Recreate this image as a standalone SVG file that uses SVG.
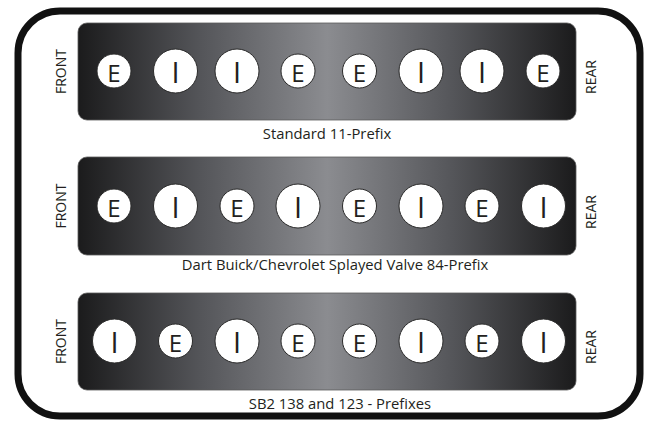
<svg xmlns="http://www.w3.org/2000/svg" width="646" height="421" viewBox="0 0 646 421">
  <defs>
    <linearGradient id="barGrad" x1="0" y1="0" x2="1" y2="0">
      <stop offset="0" stop-color="#1b1b1c"/>
      <stop offset="0.25" stop-color="#55565a"/>
      <stop offset="0.5" stop-color="#8b8c90"/>
      <stop offset="0.75" stop-color="#55565a"/>
      <stop offset="1" stop-color="#1b1b1c"/>
    </linearGradient>
  </defs>
  <style>
    .frame { fill: #ffffff; stroke: #111111; stroke-width: 7; }
    .bar { fill: url(#barGrad); stroke: #5a5a5a; stroke-width: 0.8; }
    .valve { fill: #ffffff; stroke: #2a2a2a; stroke-width: 1; }
    .ve { font-family: "Open Sans", "Liberation Sans", sans-serif; font-size: 24px; fill: #231f20; text-anchor: middle; }
    .vi { font-family: "Open Sans", "Liberation Sans", sans-serif; font-size: 29px; fill: #231f20; text-anchor: middle; }
    .side { font-family: "Open Sans", "Liberation Sans", sans-serif; font-size: 14px; fill: #231f20; text-anchor: middle; }
    .cap { font-family: "Open Sans", "Liberation Sans", sans-serif; font-size: 14.8px; fill: #231f20; text-anchor: middle; }
  </style>
  <rect class="frame" x="18" y="11" width="622" height="405" rx="42" ry="42"/>

  <g id="row1">
    <rect class="bar" x="78" y="23" width="498" height="97" rx="9" ry="9"/>
    <text class="side" transform="translate(66,71.5) rotate(-90)">FRONT</text>
    <text class="side" transform="translate(596,77) rotate(-90)">REAR</text>
    <circle class="valve" cx="114" cy="71" r="17"/><text class="ve" x="114" y="81.5">E</text>
    <circle class="valve" cx="175.5" cy="71" r="22"/><text class="vi" x="175.5" y="83">I</text>
    <circle class="valve" cx="237" cy="71" r="22"/><text class="vi" x="237" y="83">I</text>
    <circle class="valve" cx="298" cy="71" r="17"/><text class="ve" x="298" y="81.5">E</text>
    <circle class="valve" cx="359.5" cy="71" r="17"/><text class="ve" x="359.5" y="81.5">E</text>
    <circle class="valve" cx="421" cy="71" r="22"/><text class="vi" x="421" y="83">I</text>
    <circle class="valve" cx="482" cy="71" r="22"/><text class="vi" x="482" y="83">I</text>
    <circle class="valve" cx="543" cy="71" r="17"/><text class="ve" x="543" y="81.5">E</text>
    <text class="cap" x="327" y="139">Standard 11-Prefix</text>
  </g>

  <g id="row2">
    <rect class="bar" x="78" y="157" width="498" height="98" rx="9" ry="9"/>
    <text class="side" transform="translate(66,206) rotate(-90)">FRONT</text>
    <text class="side" transform="translate(596,212) rotate(-90)">REAR</text>
    <circle class="valve" cx="114" cy="206" r="17"/><text class="ve" x="114" y="216.5">E</text>
    <circle class="valve" cx="175.5" cy="206" r="22"/><text class="vi" x="175.5" y="218">I</text>
    <circle class="valve" cx="237" cy="206" r="17"/><text class="ve" x="237" y="216.5">E</text>
    <circle class="valve" cx="298" cy="206" r="22"/><text class="vi" x="298" y="218">I</text>
    <circle class="valve" cx="359.5" cy="206" r="17"/><text class="ve" x="359.5" y="216.5">E</text>
    <circle class="valve" cx="421" cy="206" r="22"/><text class="vi" x="421" y="218">I</text>
    <circle class="valve" cx="482" cy="206" r="17"/><text class="ve" x="482" y="216.5">E</text>
    <circle class="valve" cx="543.5" cy="206" r="22"/><text class="vi" x="543.5" y="218">I</text>
    <text class="cap" x="335" y="270">Dart Buick/Chevrolet Splayed Valve 84-Prefix</text>
  </g>

  <g id="row3">
    <rect class="bar" x="78" y="293" width="498" height="97" rx="9" ry="9"/>
    <text class="side" transform="translate(66,341.5) rotate(-90)">FRONT</text>
    <text class="side" transform="translate(596,347) rotate(-90)">REAR</text>
    <circle class="valve" cx="114.5" cy="341" r="22"/><text class="vi" x="114.5" y="353">I</text>
    <circle class="valve" cx="175.5" cy="341" r="17"/><text class="ve" x="175.5" y="351.5">E</text>
    <circle class="valve" cx="237" cy="341" r="22"/><text class="vi" x="237" y="353">I</text>
    <circle class="valve" cx="298" cy="341" r="17"/><text class="ve" x="298" y="351.5">E</text>
    <circle class="valve" cx="359.5" cy="341" r="17"/><text class="ve" x="359.5" y="351.5">E</text>
    <circle class="valve" cx="421" cy="341" r="22"/><text class="vi" x="421" y="353">I</text>
    <circle class="valve" cx="482" cy="341" r="17"/><text class="ve" x="482" y="351.5">E</text>
    <circle class="valve" cx="543.5" cy="341" r="22"/><text class="vi" x="543.5" y="353">I</text>
    <text class="cap" x="340" y="408.5">SB2 138 and 123 - Prefixes</text>
  </g>

  <g id="connectors"/>
</svg>
